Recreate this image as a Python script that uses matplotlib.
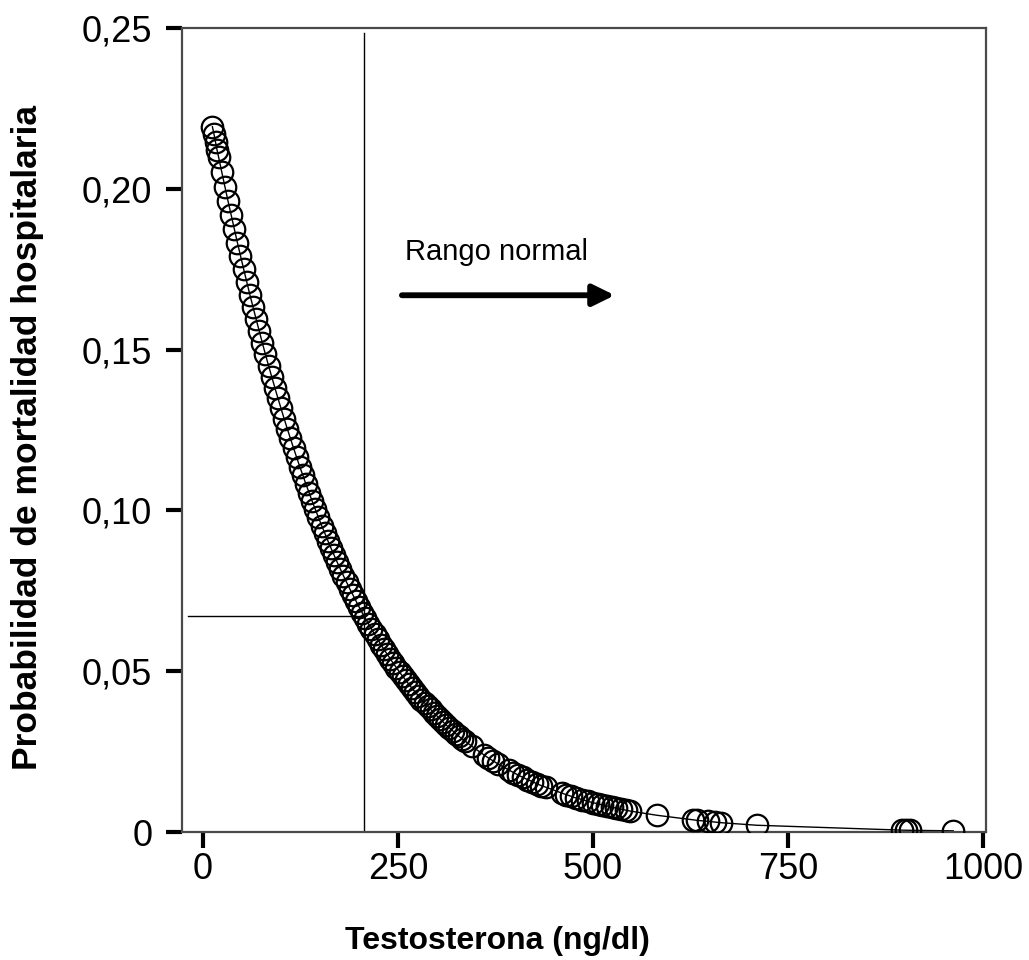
import matplotlib
matplotlib.use("Agg")
import matplotlib.pyplot as plt
from matplotlib.ticker import FixedLocator, FixedFormatter

plt.rcParams['font.family'] = ['Liberation Sans', 'DejaVu Sans']

# Testosterone (ng/dl) values of the plotted patients
testosterona = [
    12, 14, 16, 18, 20, 24, 28, 32, 36, 40, 44, 48, 52, 56, 60, 64, 68, 72, 76, 80, 84, 88,
    92, 96, 100, 104, 108, 112, 116, 120, 124, 128, 132, 136, 140, 144, 148, 152,
    156, 160, 164, 168, 172, 176, 180, 184, 188, 192, 196, 200, 204, 208, 212, 216,
    220, 224, 228, 232, 236, 240, 244, 248, 252, 256, 260, 264, 268, 272, 276, 280,
    284, 288, 292, 296, 300, 304, 308, 312, 316, 320, 324, 328, 332, 336, 345,
    360, 366, 372, 378, 392, 398, 404, 410, 416, 422, 428, 434, 440,
    460, 466, 472, 478, 486, 494, 500, 506, 512, 518, 524, 530, 536, 542, 548,
    582, 628, 634, 648, 656, 664, 710, 896, 902, 906, 962,
]

# Predicted in-hospital mortality probability
probabilidad = [
    0.2193, 0.2170, 0.2145, 0.2120, 0.2098, 0.2052, 0.2007, 0.1962, 0.1919, 0.1876, 0.1833, 0.1792,
    0.1751, 0.1711, 0.1671, 0.1633, 0.1595, 0.1558, 0.1521, 0.1485, 0.1450, 0.1416,
    0.1382, 0.1349, 0.1317, 0.1285, 0.1254, 0.1224, 0.1194, 0.1165, 0.1136, 0.1109,
    0.1081, 0.1055, 0.1028, 0.1003, 0.0978, 0.0953, 0.0930, 0.0906, 0.0883, 0.0861,
    0.0839, 0.0818, 0.0797, 0.0777, 0.0757, 0.0738, 0.0719, 0.0700, 0.0682, 0.0665,
    0.0648, 0.0631, 0.0615, 0.0599, 0.0583, 0.0568, 0.0553, 0.0539, 0.0524, 0.0511,
    0.0497, 0.0484, 0.0472, 0.0459, 0.0447, 0.0435, 0.0424, 0.0412, 0.0402, 0.0391,
    0.0381, 0.0370, 0.0361, 0.0351, 0.0342, 0.0332, 0.0324, 0.0315, 0.0306, 0.0298,
    0.0290, 0.0283, 0.0266,
    0.0240, 0.0230, 0.0221, 0.0212, 0.0193, 0.0185, 0.0177, 0.0170, 0.0163, 0.0157,
    0.0150, 0.0144, 0.0139,
    0.0121, 0.0116, 0.0111, 0.0106, 0.0101, 0.0095, 0.0091, 0.0088, 0.0084, 0.0081,
    0.0077, 0.0074, 0.0071, 0.0068, 0.0065,
    0.0052, 0.0038, 0.0036, 0.0033, 0.0031, 0.0029, 0.0021, 0.00058, 0.00055, 0.00053,
    0.00036,
]

x_ticks = [0, 250, 500, 750, 1000]
x_tick_labels = ["0", "250", "500", "750", "1000"]
y_ticks = [0, 0.05, 0.10, 0.15, 0.20, 0.25]
y_tick_labels = ["0", "0,05", "0,10", "0,15", "0,20", "0,25"]

corte_testosterona = 206      # vertical reference line
corte_probabilidad = 0.0673   # horizontal reference line
rango_inicio, rango_fin, rango_y = 255, 528, 0.1669

fig = plt.figure(figsize=(10.29, 9.6), dpi=100)
ax = fig.add_axes([182/1029, 1 - 832/960, (986-182)/1029, (832-28)/960])

ax.plot(testosterona, probabilidad, color='black', lw=1.0, zorder=2)
ax.plot(testosterona, probabilidad, linestyle='none', marker='o', ms=15.5,
        mfc='none', mec='black', mew=1.6, zorder=3)

ax.plot([corte_testosterona, corte_testosterona], [0, 0.2484], color='black', lw=1.0, zorder=1)
ax.plot([-19, corte_testosterona], [corte_probabilidad, corte_probabilidad],
        color='black', lw=1.0, zorder=1)

ax.annotate('', xy=(rango_fin, rango_y), xytext=(rango_inicio, rango_y),
            arrowprops=dict(arrowstyle='-|>,head_length=0.65,head_width=0.32',
                            lw=4.2, color='black', shrinkA=0, shrinkB=0,
                            mutation_scale=20))
ax.text(259, 0.1802, 'Rango normal', fontsize=21, ha='left', va='center')

ax.set_xlim(-27, 1004)
ax.set_ylim(0, 0.25)

ax.xaxis.set_major_locator(FixedLocator(x_ticks))
ax.xaxis.set_major_formatter(FixedFormatter(x_tick_labels))
ax.yaxis.set_major_locator(FixedLocator(y_ticks))
ax.yaxis.set_major_formatter(FixedFormatter(y_tick_labels))

for s in ax.spines.values():
    s.set_color('#4a4a4a')
    s.set_linewidth(1.6)

ax.tick_params(axis='both', direction='out', length=11.5, width=3, color='black',
               labelsize=26, top=False, right=False)
ax.tick_params(axis='x', pad=3)
ax.tick_params(axis='y', pad=10)

ax.set_xlabel('Testosterona (ng/dl)', fontsize=23, fontweight='bold')
ax.xaxis.set_label_coords(0.392, -0.117)
ax.xaxis.label.set_va('top')
ax.set_ylabel('Probabilidad de mortalidad hospitalaria', fontsize=25.5, fontweight='bold')
ax.yaxis.set_label_coords(-0.172, 0.491)

fig.savefig('out.png', dpi=100)
